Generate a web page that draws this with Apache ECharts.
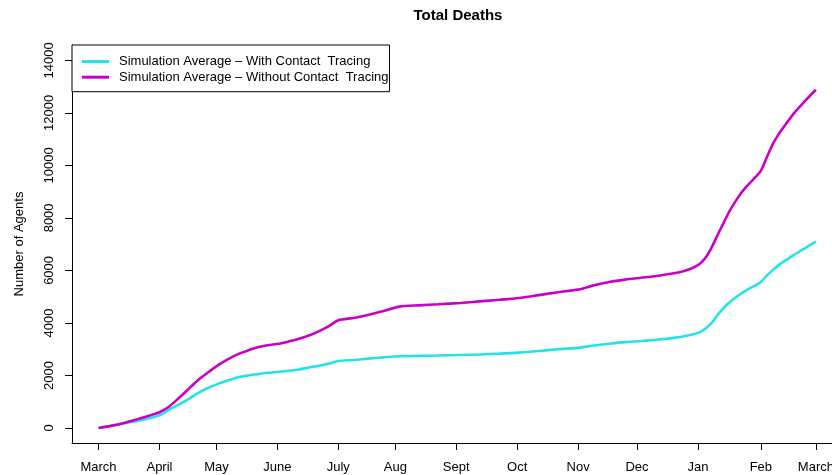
<!DOCTYPE html>
<html>
<head>
<meta charset="utf-8">
<script src="https://cdn.jsdelivr.net/npm/echarts@6/dist/echarts.min.js"></script>
<style>
  html, body { margin: 0; padding: 0; background: #fff; }
  #chart { width: 832px; height: 475px; }
</style>
</head>
<body>
<div id="chart"></div>
<script>
// Days since 1 March, one point per sample of the simulation averages
const days = [0, 7, 14, 21, 28, 31, 36, 41, 46, 51, 56, 61, 66, 71, 76, 81, 86, 92, 97, 102,
  107, 112, 117, 122, 130, 137, 145, 153, 163, 173, 184, 194, 204, 214, 224, 234, 245, 252,
  260, 268, 276, 284, 292, 298, 302, 306, 309, 312, 315, 318, 321, 324, 327, 330, 333, 337,
  340, 343, 346, 350, 354, 358, 362, 365];

const withTracing = [0, 90, 190, 290, 410, 480, 700, 900, 1110, 1350, 1530, 1690, 1810, 1930,
  2000, 2050, 2100, 2140, 2180, 2230, 2300, 2370, 2450, 2550, 2590, 2640, 2690, 2730, 2745,
  2760, 2780, 2800, 2830, 2870, 2930, 3000, 3060, 3140, 3210, 3270, 3310, 3360, 3420, 3490,
  3560, 3650, 3800, 4000, 4300, 4560, 4780, 4960, 5120, 5260, 5380, 5560, 5800, 6010, 6200,
  6400, 6600, 6780, 6960, 7100];

const withoutTracing = [0, 90, 210, 360, 520, 600, 820, 1150, 1500, 1850, 2130, 2400, 2620,
  2810, 2950, 3070, 3150, 3210, 3300, 3400, 3520, 3680, 3870, 4100, 4190, 4300, 4450, 4620,
  4670, 4710, 4760, 4820, 4880, 4950, 5060, 5170, 5280, 5430, 5560, 5650, 5720, 5790, 5880,
  5980, 6080, 6250, 6500, 6880, 7350, 7800, 8250, 8620, 8950, 9220, 9450, 9790, 10300, 10800,
  11180, 11600, 12000, 12330, 12650, 12880];

// Month ticks on the x axis (day offset from 1 March) and their labels
const monthDays = [0, 31, 60, 91, 122, 151, 182, 213, 244, 274, 305, 337, 365];
const monthLabels = ['March', 'April', 'May', 'June', 'July', 'Aug', 'Sept', 'Oct', 'Nov',
  'Dec', 'Jan', 'Feb', 'March'];

const yTicks = [0, 2000, 4000, 6000, 8000, 10000, 12000, 14000];

const seriesNames = ['Simulation Average \u2013 With Contact  Tracing',
  'Simulation Average \u2013 Without Contact  Tracing'];
const seriesColors = ['#22e3e8', '#c800c8'];

const FONT = '"Liberation Sans", Arial, Helvetica, sans-serif';

function pairs(xs, ys) {
  return xs.map((x, i) => [x, ys[i]]);
}

const chart = echarts.init(document.getElementById('chart'), null, { renderer: 'canvas' });

chart.setOption({
  animation: false,
  backgroundColor: '#ffffff',
  textStyle: { fontFamily: FONT, color: '#000' },
  title: {
    text: 'Total Deaths',
    left: 458,
    top: 8,
    padding: 0,
    textAlign: 'center',
    textStyle: { fontFamily: FONT, fontSize: 15, fontWeight: 'bold', color: '#000' }
  },
  legend: {
    orient: 'vertical',
    left: 72,
    top: 45,
    padding: [10, 1, 8, 10],
    icon: 'rect',
    itemWidth: 27,
    itemHeight: 3,
    itemGap: 2.7,
    backgroundColor: '#ffffff',
    borderColor: '#000000',
    borderWidth: 1,
    borderRadius: 0,
    selectedMode: false,
    textStyle: { fontFamily: FONT, fontSize: 13, lineHeight: 13, color: '#000', padding: [0, 0, 0, 5] },
    data: seriesNames
  },
  grid: { left: 72, right: 0, top: 45, bottom: 32, containLabel: false, outerBoundsMode: 'none' },
  xAxis: {
    type: 'value',
    min: -13.5,
    max: 373.2,
    splitLine: { show: false },
    axisLine: { show: true, onZero: false, lineStyle: { color: '#000', width: 1 } },
    axisTick: { show: true, length: 7, customValues: monthDays, lineStyle: { color: '#000' } },
    axisLabel: {
      show: true,
      margin: 18,
      fontFamily: FONT,
      fontSize: 13,
      color: '#000',
      hideOverlap: false,
      customValues: monthDays,
      formatter: function (v) {
        const i = monthDays.indexOf(v);
        return i >= 0 ? monthLabels[i] : '';
      }
    }
  },
  yAxis: {
    type: 'value',
    min: -572,
    max: 14583,
    name: 'Number of Agents',
    nameLocation: 'middle',
    nameRotate: 90,
    nameGap: 46,
    nameTextStyle: { fontFamily: FONT, fontSize: 13, color: '#000' },
    splitLine: { show: false },
    axisLine: { show: true, onZero: false, lineStyle: { color: '#000', width: 1 } },
    axisTick: { show: true, length: 7, customValues: yTicks, lineStyle: { color: '#000' } },
    axisLabel: {
      show: true,
      rotate: 90,
      margin: 16,
      fontFamily: FONT,
      fontSize: 13,
      color: '#000',
      customValues: yTicks,
      formatter: function (v) { return String(v); }
    }
  },
  series: [0, 1].map(function (k) {
    return {
      name: seriesNames[k],
      type: 'line',
      data: pairs(days, k === 0 ? withTracing : withoutTracing),
      showSymbol: false,
      symbol: 'none',
      smooth: 0.25,
      clip: true,
      color: seriesColors[k],
      lineStyle: { color: seriesColors[k], width: 2.6 }
    };
  })
});
</script>
</body>
</html>
